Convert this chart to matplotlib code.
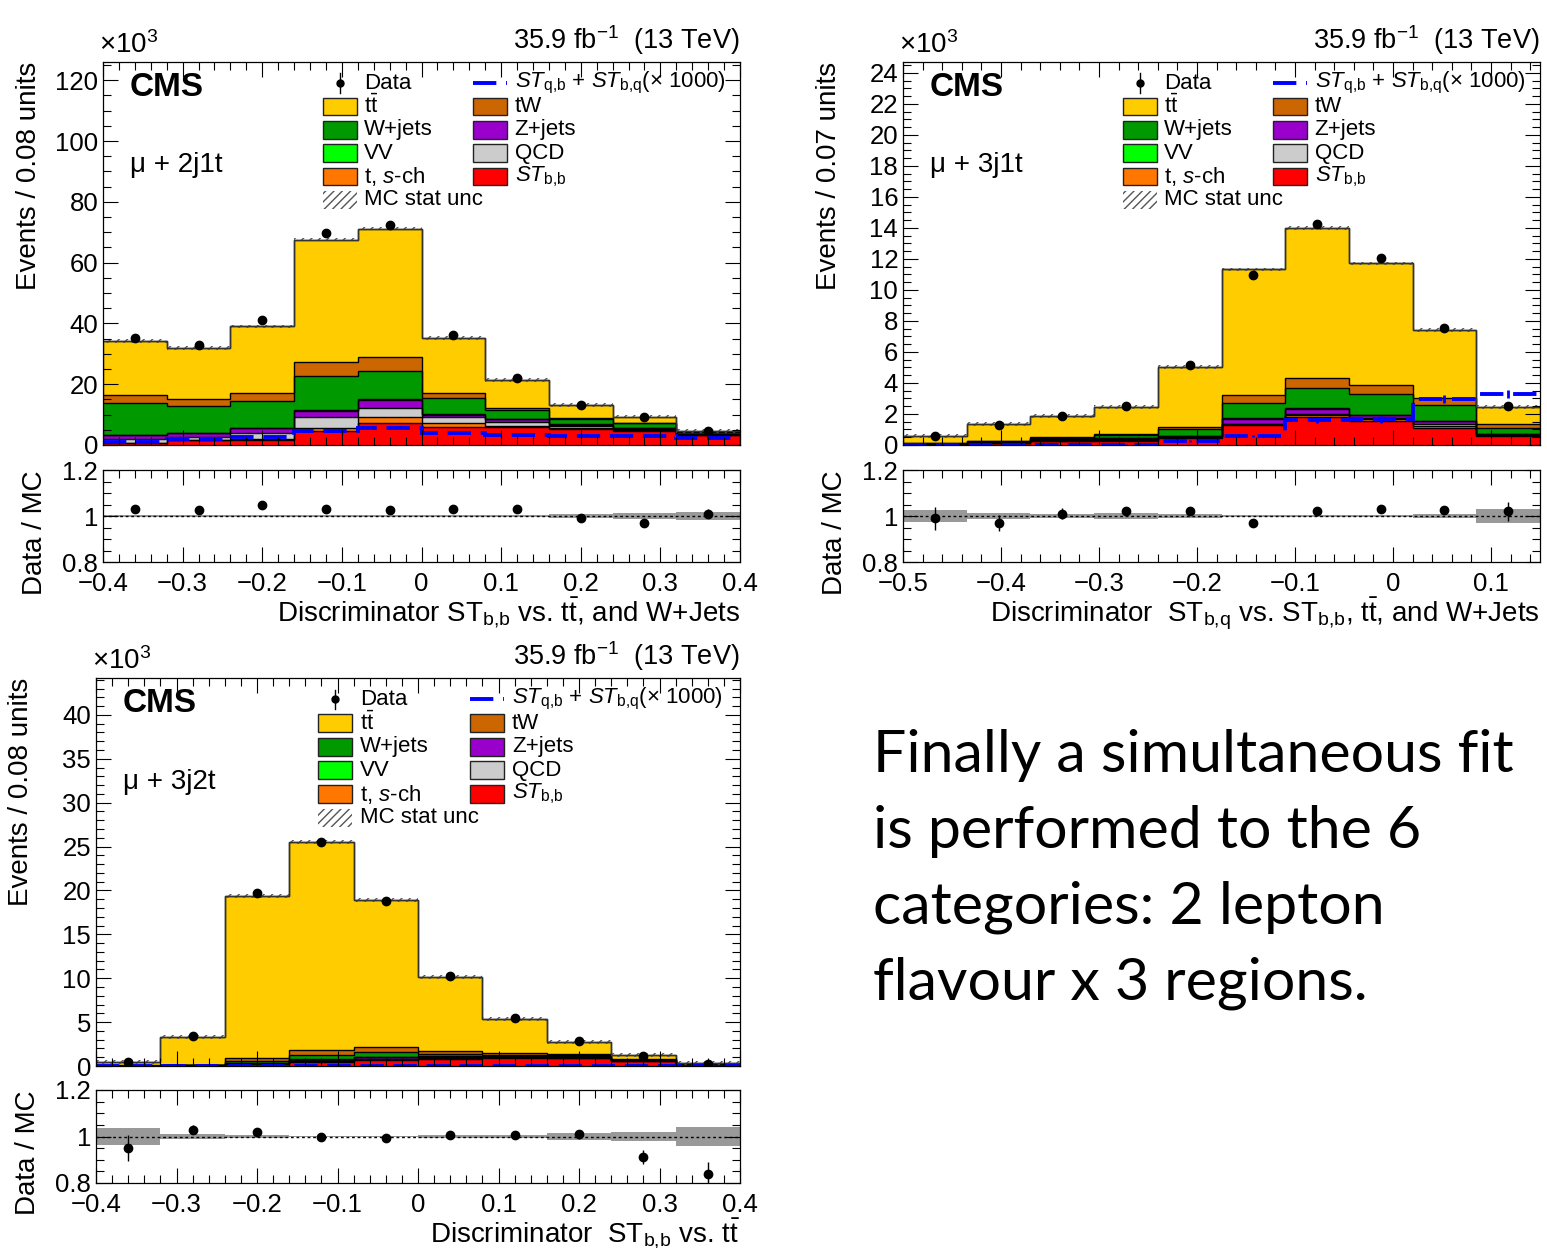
import numpy as np
import matplotlib
matplotlib.use("Agg")
import matplotlib.pyplot as plt
from matplotlib import font_manager as fm
from matplotlib.patches import Rectangle
from matplotlib.ticker import MultipleLocator, FuncFormatter

# ---------------- data (values in units of 10^3 events) ----------------
processes = ["ST_bb", "t_sch", "QCD", "Zjets", "VV", "Wjets", "tW", "ttbar"]

# Panel 1: mu + 2j1t
p1_stbb  = [0.5, 1.5, 1.6, 4.6, 7.3, 6.0, 5.8, 5.2, 4.7, 3.3]
p1_sch   = [0.3, 0.3, 0.4, 1.1, 1.8, 1.1, 0.5, 0.3, 0.2, 0.1]
p1_qcd   = [1.2, 0.9, 2.0, 3.6, 3.2, 2.0, 1.4, 0.7, 0.4, 0.1]
p1_zjets = [1.2, 1.3, 1.5, 2.0, 2.5, 0.8, 0.9, 0.5, 0.3, 0.1]
p1_vv    = [0.1, 0.1, 0.1, 0.2, 0.2, 0.2, 0.1, 0.1, 0.05, 0.05]
p1_wjets = [10.4, 8.6, 8.8, 11.2, 9.3, 5.3, 2.8, 1.9, 1.5, 0.5]
p1_tw    = [2.7, 2.5, 2.6, 4.7, 4.7, 1.8, 0.6, 0.3, 0.2, 0.1]
p1_tt    = [17.7, 16.7, 22.0, 40.2, 42.2, 18.1, 9.2, 4.1, 2.0, 0.35]
p1_data  = [35.2, 32.8, 41.0, 69.8, 72.5, 36.1, 21.9, 13.0, 9.1, 4.65]
p1_signal = [1.1, 1.9, 2.7, 4.6, 5.7, 3.8, 3.3, 3.1, 3.1, 2.2]
p1_signal_err = [0, 0, 0, 0, 0, 0, 0, 0, 0, 0]
p1_ratio = [1.03, 1.025, 1.05, 1.03, 1.025, 1.03, 1.03, 0.99, 0.97, 1.01]
p1_ratio_err = [0.005, 0.005, 0.005, 0.004, 0.004, 0.005, 0.006, 0.008, 0.010, 0.020]
p1_band = [0.006, 0.005, 0.005, 0.003, 0.003, 0.004, 0.006, 0.010, 0.012, 0.016]

# Panel 2: mu + 3j1t
p2_stbb  = [0.05, 0.10, 0.25, 0.26, 0.47, 1.27, 1.83, 1.55, 1.12, 0.58]
p2_sch   = [0.00, 0.02, 0.03, 0.05, 0.04, 0.06, 0.10, 0.12, 0.10, 0.04]
p2_qcd   = [0.00, 0.02, 0.03, 0.05, 0.03, 0.05, 0.07, 0.09, 0.13, 0.03]
p2_zjets = [0.01, 0.04, 0.08, 0.11, 0.04, 0.32, 0.34, 0.15, 0.20, 0.04]
p2_vv    = [0.00, 0.01, 0.01, 0.01, 0.01, 0.02, 0.03, 0.03, 0.02, 0.01]
p2_wjets = [0.06, 0.05, 0.07, 0.17, 0.42, 1.01, 1.33, 1.33, 0.99, 0.42]
p2_tw    = [0.02, 0.02, 0.03, 0.05, 0.17, 0.47, 0.64, 0.60, 0.44, 0.21]
p2_tt    = [0.44, 1.07, 1.37, 1.75, 3.85, 8.12, 9.63, 7.84, 4.39, 1.12]
p2_data  = [0.575, 1.29, 1.89, 2.50, 5.13, 10.98, 14.25, 12.06, 7.57, 2.50]
p2_signal = [0.0, 0.03, 0.03, 0.03, 0.26, 0.58, 1.59, 1.65, 2.99, 3.31]
p2_signal_err = [0, 0, 0, 0.02, 0.05, 0.08, 0.15, 0.20, 0.25, 0.25]
p2_ratio = [0.99, 0.97, 1.01, 1.02, 1.02, 0.97, 1.02, 1.03, 1.025, 1.02]
p2_ratio_err = [0.05, 0.035, 0.025, 0.02, 0.01, 0.006, 0.005, 0.008, 0.01, 0.04]
p2_band = [0.025, 0.015, 0.010, 0.012, 0.010, 0.005, 0.004, 0.006, 0.008, 0.030]

# Panel 3: mu + 3j2t
p3_stbb  = [0.02, 0.05, 0.20, 0.50, 0.65, 0.76, 0.95, 0.87, 0.57, 0.20]
p3_sch   = [0.00, 0.01, 0.05, 0.10, 0.15, 0.12, 0.08, 0.08, 0.04, 0.01]
p3_qcd   = [0.00, 0.00, 0.02, 0.03, 0.05, 0.05, 0.04, 0.04, 0.02, 0.01]
p3_zjets = [0.01, 0.01, 0.05, 0.10, 0.18, 0.15, 0.08, 0.08, 0.04, 0.01]
p3_vv    = [0.00, 0.00, 0.01, 0.02, 0.03, 0.02, 0.02, 0.02, 0.01, 0.00]
p3_wjets = [0.02, 0.05, 0.25, 0.47, 0.57, 0.23, 0.08, 0.14, 0.05, 0.02]
p3_tw    = [0.02, 0.03, 0.38, 0.57, 0.53, 0.38, 0.19, 0.10, 0.03, 0.02]
p3_tt    = [0.42, 3.15, 18.41, 23.71, 16.74, 8.47, 3.95, 1.44, 0.49, 0.03]
p3_data  = [0.466, 3.40, 19.76, 25.5, 18.8, 10.23, 5.42, 2.80, 1.14, 0.25]
p3_signal = [0.01, 0.01, 0.02, 0.03, 0.03, 0.03, 0.03, 0.02, 0.02, 0.01]
p3_signal_err = [0, 0, 0, 0, 0, 0, 0, 0, 0, 0]
p3_ratio = [0.95, 1.03, 1.02, 1.0, 0.995, 1.005, 1.005, 1.01, 0.91, 0.84]
p3_ratio_err = [0.055, 0.02, 0.01, 0.005, 0.005, 0.01, 0.015, 0.02, 0.03, 0.05]
p3_band = [0.035, 0.012, 0.005, 0.004, 0.004, 0.005, 0.008, 0.015, 0.020, 0.040]

region_labels = ["\u03bc + 2j1t", "\u03bc + 3j1t", "\u03bc + 3j2t"]
ylabels = ["Events / 0.08 units", "Events / 0.07 units", "Events / 0.08 units"]
xlabels = [r"Discriminator ST$_{\mathrm{b{,}b}}$ vs. t$\bar{\mathrm{t}}$, and W+Jets",
           r"Discriminator  ST$_{\mathrm{b{,}q}}$ vs. ST$_{\mathrm{b{,}b}}$, t$\bar{\mathrm{t}}$, and W+Jets",
           r"Discriminator  ST$_{\mathrm{b{,}b}}$ vs. t$\bar{\mathrm{t}}$"]
legend_labels = ["Data", r"t$\bar{\mathrm{t}}$", "W+jets", "VV", r"t, $\mathit{s}$-ch", "MC stat unc",
                 r"$\mathit{ST}_{\mathrm{q{,}b}}$ + $\mathit{ST}_{\mathrm{b{,}q}}$" + "(\u00d7 1000)",
                 "tW", "Z+jets", "QCD", r"$\mathit{ST}_{\mathrm{b{,}b}}$"]
body_text = ["Finally a simultaneous fit", "is performed to the 6",
             "categories: 2 lepton", "flavour x 3 regions."]

# ---------------- styling ----------------
names = {f.name for f in fm.fontManager.ttflist}
FONT = "Liberation Sans Narrow" if "Liberation Sans Narrow" in names else "Liberation Sans"
plt.rcParams["font.family"] = [FONT, "DejaVu Sans"]
plt.rcParams["mathtext.fontset"] = "custom"
plt.rcParams["mathtext.rm"] = FONT
plt.rcParams["mathtext.it"] = FONT + ":italic"
plt.rcParams["mathtext.bf"] = FONT + ":bold"
plt.rcParams["hatch.linewidth"] = 1.0

colors = {"ST_bb": "#ff0000", "t_sch": "#ff7700", "QCD": "#cccccc", "Zjets": "#9900cc",
          "VV": "#00ff00", "Wjets": "#009900", "tW": "#cc6600", "ttbar": "#ffcc00"}

W, H = 1547, 1248


def rect(l, t, r, b):
    return [l / W, 1 - b / H, (r - l) / W, (b - t) / H]


panels = [
    dict(stack=[p1_stbb, p1_sch, p1_qcd, p1_zjets, p1_vv, p1_wjets, p1_tw, p1_tt],
         data=p1_data, signal=p1_signal, signal_err=p1_signal_err,
         ratio=p1_ratio, ratio_err=p1_ratio_err, band=p1_band,
         xlo=-0.4, xhi=0.4, ymax=126, ymaj=20, ymin_=5,
         main=rect(103, 62, 740, 445), rat=rect(103, 470, 740, 562)),
    dict(stack=[p2_stbb, p2_sch, p2_qcd, p2_zjets, p2_vv, p2_wjets, p2_tw, p2_tt],
         data=p2_data, signal=p2_signal, signal_err=p2_signal_err,
         ratio=p2_ratio, ratio_err=p2_ratio_err, band=p2_band,
         xlo=-0.5, xhi=0.15, ymax=24.7, ymaj=2, ymin_=0.5,
         main=rect(903, 62, 1540, 445), rat=rect(903, 470, 1540, 562)),
    dict(stack=[p3_stbb, p3_sch, p3_qcd, p3_zjets, p3_vv, p3_wjets, p3_tw, p3_tt],
         data=p3_data, signal=p3_signal, signal_err=p3_signal_err,
         ratio=p3_ratio, ratio_err=p3_ratio_err, band=p3_band,
         xlo=-0.4, xhi=0.4, ymax=44.2, ymaj=5, ymin_=1,
         main=rect(96, 678, 740, 1066), rat=rect(96, 1090, 740, 1183)),
]

fig = plt.figure(figsize=(W / 100, H / 100), dpi=100)
TICK_FS = 18.5
LEG_FS = 16
TITLE_FS = 20
DASH = (0, (6, 2.5))


def fmt(v, pos):
    s = "%g" % round(v, 3)
    return s.replace("-", "\u2212")


def style_ticks(ax, xmaj, xmin, ymaj, ymin):
    ax.xaxis.set_major_locator(MultipleLocator(xmaj))
    ax.xaxis.set_minor_locator(MultipleLocator(xmin))
    ax.yaxis.set_major_locator(MultipleLocator(ymaj))
    ax.yaxis.set_minor_locator(MultipleLocator(ymin))
    ax.tick_params(which="both", direction="in", top=True, right=True, width=0.8,
                   labelsize=TICK_FS)
    ax.tick_params(which="major", length=11)
    ax.tick_params(which="minor", length=5.5)
    for s in ax.spines.values():
        s.set_linewidth(0.9)


for i, p in enumerate(panels):
    nb = len(p["data"])
    edges = np.linspace(p["xlo"], p["xhi"], nb + 1)
    centers = 0.5 * (edges[:-1] + edges[1:])
    ax = fig.add_axes(p["main"])
    bottom = np.zeros(nb)
    for name, vals in zip(processes, p["stack"]):
        top = bottom + np.asarray(vals)
        ax.stairs(top, edges, baseline=bottom, fill=True, color=colors[name], lw=0)
        bottom = top
    cum = np.zeros(nb)
    for vals in p["stack"]:
        cum = cum + np.asarray(vals)
        ax.stairs(cum, edges, baseline=None, color="black", lw=1.0)
    total = cum
    unc = np.maximum(np.asarray(p["band"]) * total, 0.005 * p["ymax"])
    ax.stairs(total + unc, edges, baseline=total - unc, fill=True, facecolor="none",
              edgecolor="#555555", hatch="////", lw=0)
    ax.stairs(total, edges, baseline=0, color="#333333", lw=1.0)
    ax.stairs(p["signal"], edges, baseline=None, color="#0000ff", lw=2.8, linestyle=DASH)
    if any(p["signal_err"]):
        ax.errorbar(centers, p["signal"], yerr=p["signal_err"], fmt="none",
                    ecolor="#0000ff", elinewidth=2)
    ax.errorbar(centers, p["data"], fmt="o", color="black", ms=6)
    ax.set_xlim(p["xlo"], p["xhi"])
    ax.set_ylim(0, p["ymax"])
    style_ticks(ax, 0.1, 0.02, p["ymaj"], p["ymin_"])
    ax.tick_params(labelbottom=False)
    ax.yaxis.set_major_formatter(FuncFormatter(fmt))
    ax.set_ylabel(ylabels[i], fontsize=TITLE_FS, loc="top")
    ax.yaxis.set_label_coords(-0.096, 1.0)
    T = ax.transAxes
    ax.text(0.042, 0.975, "CMS", transform=T, fontsize=24, fontweight="bold",
            ha="left", va="top", family=["Liberation Sans", "DejaVu Sans"])
    ax.text(0.042, 0.731, region_labels[i], transform=T, fontsize=20, ha="left", va="center")
    ax.text(1.0, 1.012, r"35.9 fb$^{\mathrm{-1}}$  (13 TeV)", transform=T, fontsize=19.5,
            ha="right", va="bottom")
    ax.text(-0.006, 1.008, r"$\times$10$^{\mathrm{3}}$", transform=T, fontsize=20,
            ha="left", va="bottom")
    # legend
    rows = [0.945, 0.884, 0.823, 0.762, 0.701, 0.640]
    bw, bh = 0.053, 0.046
    c1, c2 = 0.345, 0.581
    ax.plot([c1 + bw / 2], [rows[0]], "o", color="black", ms=5, transform=T, clip_on=False)
    ax.plot([c1 + bw / 2] * 2, [rows[0] - 0.025, rows[0] + 0.025], color="black", lw=1,
            transform=T)
    left_fill = ["ttbar", "Wjets", "VV", "t_sch"]
    for k, nm in enumerate(left_fill):
        ax.add_patch(Rectangle((c1, rows[k + 1] - bh / 2), bw, bh, transform=T,
                               facecolor=colors[nm], edgecolor="#222222", lw=1))
    ax.add_patch(Rectangle((c1, rows[5] - bh / 2), bw, bh, transform=T,
                           facecolor="white", edgecolor="#555555", hatch="////", lw=0))
    for k, lab in enumerate(legend_labels[:6]):
        ax.text(c1 + bw + 0.012, rows[k], lab, transform=T, fontsize=LEG_FS,
                ha="left", va="center")
    ax.plot([c2, c2 + bw], [rows[0], rows[0]], color="#0000ff", lw=2.8,
            linestyle=DASH, transform=T)
    right_fill = ["tW", "Zjets", "QCD", "ST_bb"]
    for k, nm in enumerate(right_fill):
        ax.add_patch(Rectangle((c2, rows[k + 1] - bh / 2), bw, bh, transform=T,
                               facecolor=colors[nm], edgecolor="#222222", lw=1))
    for k, lab in enumerate(legend_labels[6:]):
        ax.text(c2 + bw + 0.012, rows[k], lab, transform=T, fontsize=LEG_FS,
                ha="left", va="center")

    # ratio panel
    ar = fig.add_axes(p["rat"])
    band = np.asarray(p["band"])
    ar.stairs(1 + band, edges, baseline=1 - band, fill=True, color="#999999", lw=0)
    ar.axhline(1.0, color="black", lw=1.0, linestyle=(0, (2, 2)))
    ar.errorbar(centers, p["ratio"], yerr=p["ratio_err"], fmt="o", color="black",
                ms=6, elinewidth=1)
    ar.set_xlim(p["xlo"], p["xhi"])
    ar.set_ylim(0.8, 1.2)
    style_ticks(ar, 0.1, 0.02, 0.2, 0.05)
    ar.xaxis.set_major_formatter(FuncFormatter(fmt))
    ar.yaxis.set_major_formatter(FuncFormatter(fmt))
    ar.tick_params(axis="x", pad=7)
    ar.set_ylabel("Data / MC", fontsize=TITLE_FS, loc="top")
    ar.yaxis.set_label_coords(-0.086, 1.0)
    ar.set_xlabel(xlabels[i], fontsize=TITLE_FS, loc="right")
    ar.xaxis.set_label_coords(1.0, -0.36)

# text block on the right
for j, line in enumerate(body_text):
    fig.text(873 / W, 1 - (772 + 76 * j) / H, line, fontsize=42.5, ha="left",
             va="baseline", family=["Lato", "DejaVu Sans"])

fig.savefig("out.png", dpi=100)
